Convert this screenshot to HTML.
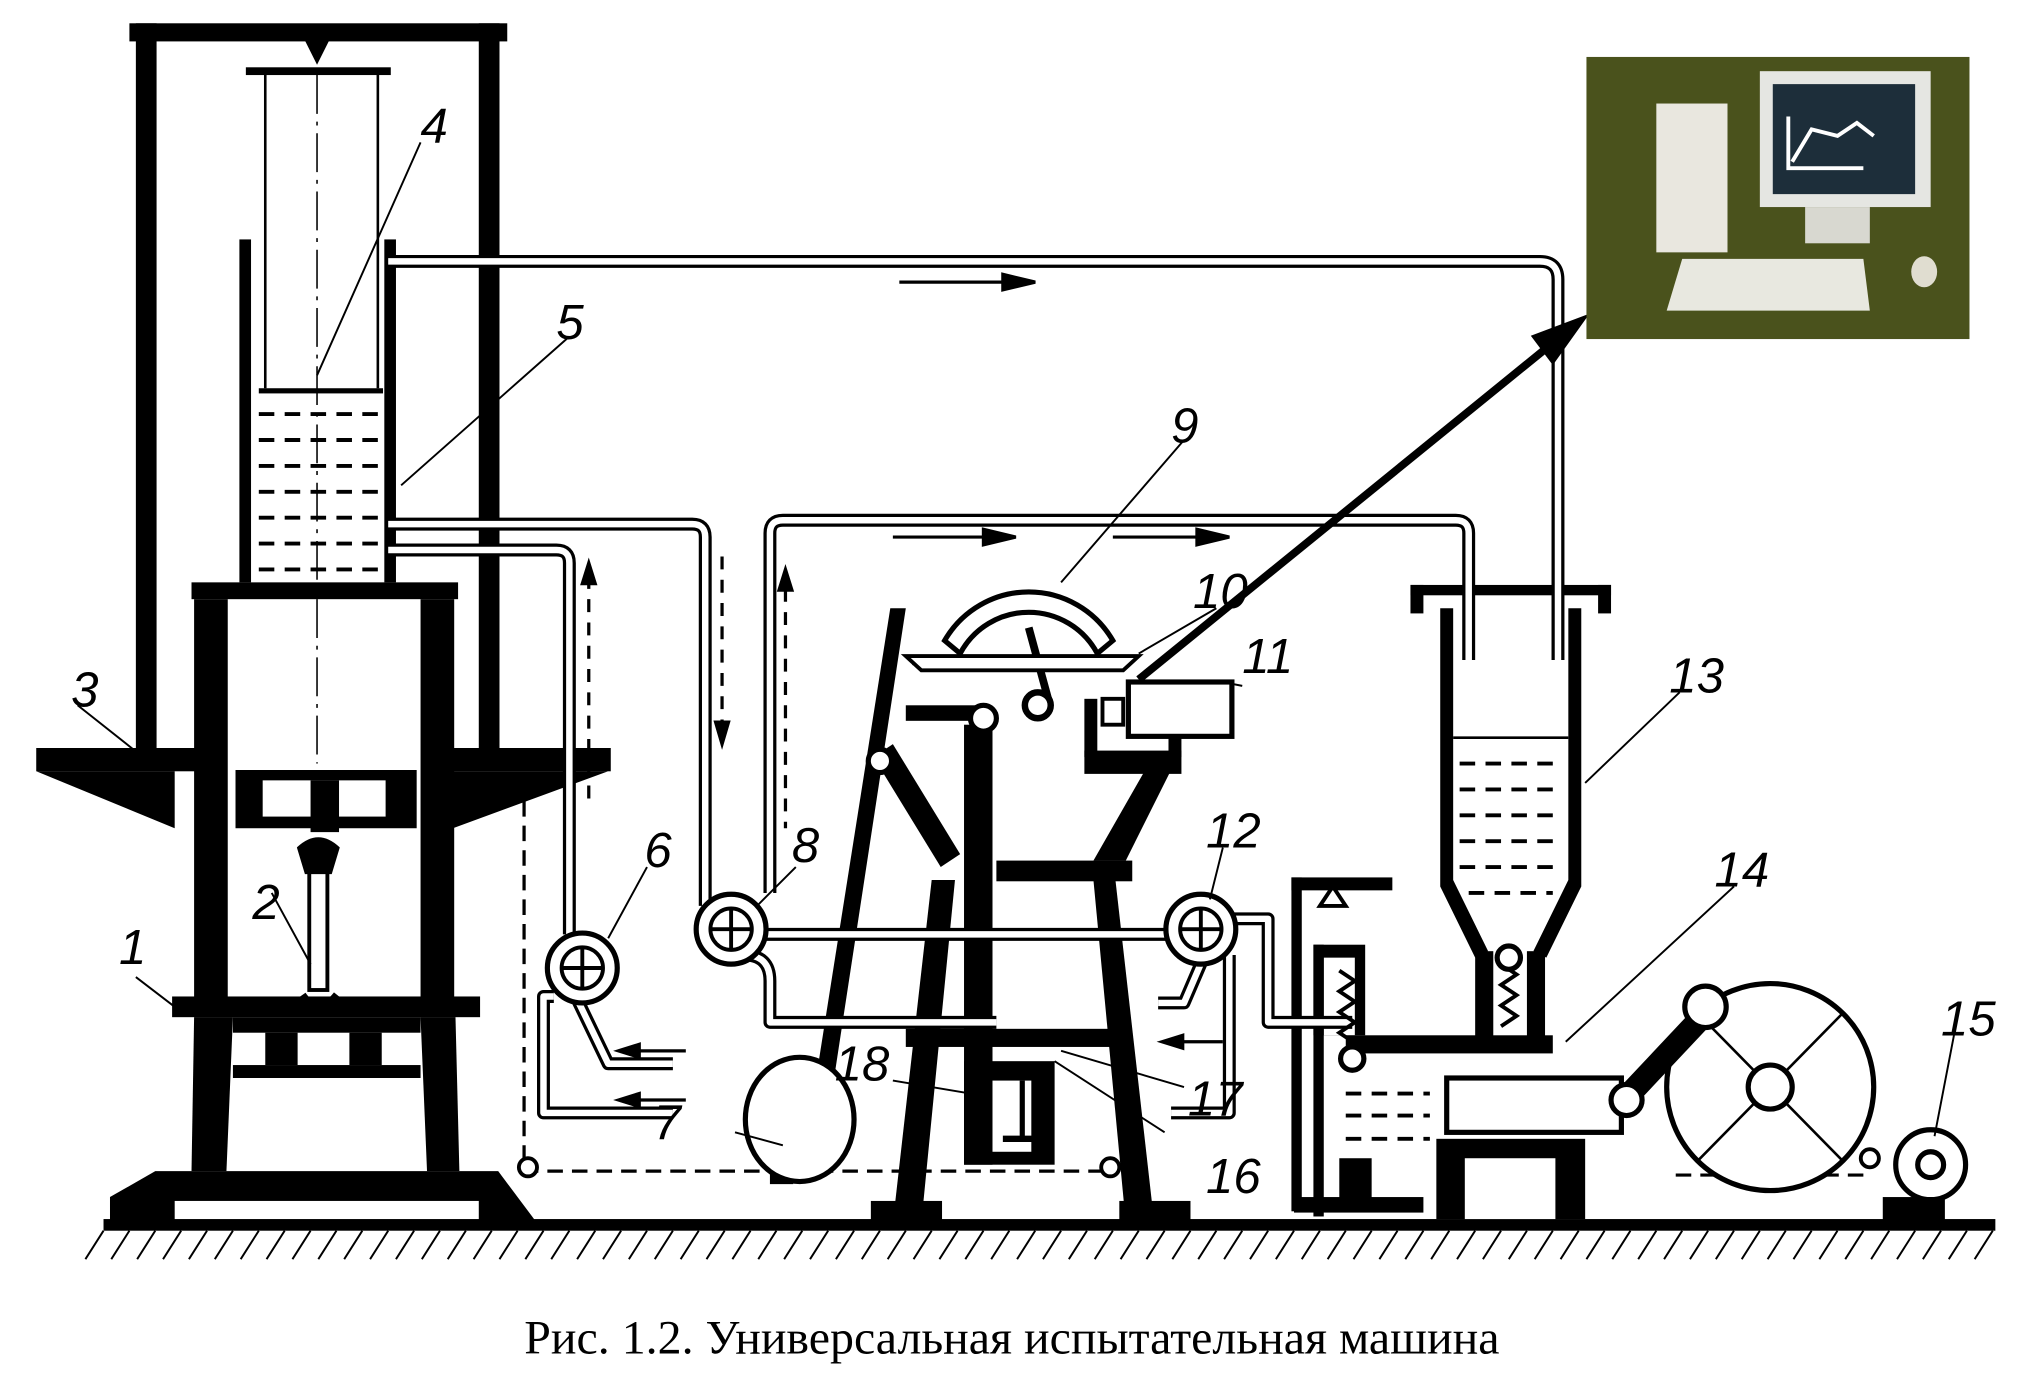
<!DOCTYPE html>
<html><head><meta charset="utf-8"><style>
html,body{margin:0;padding:0;background:#fff;}
svg{display:block}
</style></head><body>
<svg width="2029" height="1386" viewBox="0 0 1568 1071" preserveAspectRatio="none" xmlns="http://www.w3.org/2000/svg">
<rect width="1568" height="1071" fill="#fff"/>
<g fill="#000" stroke="none">
<rect x="100" y="18" width="292" height="14"/>
<rect x="105" y="18" width="16" height="572"/>
<rect x="370" y="18" width="16" height="572"/>
<rect x="28" y="578" width="124" height="18"/>
<polygon points="28,596 135,596 135,640"/>
<rect x="350" y="578" width="122" height="18"/>
<polygon points="350,596 470,596 350,640"/>
<rect x="148" y="450" width="206" height="13"/>
<rect x="150" y="463" width="26" height="310"/>
<rect x="325" y="463" width="26" height="310"/>
<rect x="182" y="595" width="140" height="45"/>
<rect x="203" y="603" width="95" height="28" fill="#fff"/>
<rect x="240" y="603" width="22" height="40"/>
<rect x="133" y="770" width="238" height="16"/>
<polygon points="150,786 180,786 175,905 148,905"/>
<polygon points="325,786 352,786 355,905 330,905"/>
<rect x="180" y="786" width="145" height="12"/>
<rect x="205" y="798" width="25" height="25"/>
<rect x="270" y="798" width="25" height="25"/>
<rect x="180" y="823" width="145" height="10"/>
<polygon points="120,905 385,905 415,945 85,945 85,925"/>
<rect x="135" y="928" width="235" height="17" fill="#fff"/>
<rect x="185" y="185" width="9" height="265"/>
<rect x="297" y="185" width="9" height="265"/>
<rect x="190" y="52" width="112" height="6"/>
<polygon points="235,30 255,30 245,50"/>
<rect x="200" y="300" width="96" height="4"/>
<rect x="80" y="942" width="1462" height="9"/>
<polygon points="688,470 700,470 642,850 628,850"/>
<polygon points="690,945 712,945 738,680 720,680"/>
<polygon points="870,945 892,945 862,680 845,680"/>
<rect x="673" y="928" width="55" height="17"/>
<rect x="865" y="928" width="55" height="17"/>
<rect x="770" y="665" width="105" height="16"/>
<polygon points="845,665 870,665 905,595 885,595"/>
<rect x="838" y="580" width="75" height="18"/>
<rect x="838" y="540" width="10" height="45"/>
<rect x="903" y="540" width="10" height="45"/>
<rect x="700" y="545" width="65" height="12"/>
<rect x="745" y="560" width="22" height="340"/>
<polygon points="675,585 690,575 742,660 727,670"/>
<rect x="745" y="820" width="70" height="80"/>
<rect x="767" y="835" width="30" height="55" fill="#fff"/>
<rect x="700" y="795" width="170" height="14"/>
<rect x="998" y="678" width="78" height="10"/>
<rect x="998" y="678" width="8" height="258"/>
<rect x="1015" y="730" width="40" height="70"/>
<rect x="1023" y="740" width="24" height="60" fill="#fff"/>
<rect x="1015" y="730" width="8" height="210"/>
<rect x="1040" y="800" width="160" height="14"/>
<rect x="1140" y="735" width="14" height="70"/>
<rect x="1180" y="735" width="14" height="70"/>
<rect x="1110" y="880" width="115" height="62"/>
<rect x="1132" y="895" width="70" height="47" fill="#fff"/>
<rect x="1000" y="925" width="100" height="12"/>
<rect x="1035" y="895" width="25" height="40"/>
<rect x="1090" y="452" width="155" height="8"/>
<rect x="1090" y="452" width="10" height="22"/>
<rect x="1235" y="452" width="10" height="22"/>
<polygon points="1113,470 1123,470 1123,680 1150,735 1140,740 1113,685"/>
<polygon points="1212,470 1222,470 1222,685 1195,740 1185,735 1212,680"/>
<rect x="1455" y="925" width="48" height="18"/>
<rect x="595" y="905" width="18" height="10"/>
</g>
<g fill="none" stroke="#000">
<line x1="205" y1="58" x2="205" y2="300" stroke-width="2"/>
<line x1="292" y1="58" x2="292" y2="300" stroke-width="2"/>
<line x1="245" y1="58" x2="245" y2="590" stroke-width="1.2" stroke-dasharray="30 6 3 6"/>
<g stroke-width="3" stroke-dasharray="12 8">
<line x1="200" y1="320" x2="296" y2="320"/><line x1="200" y1="340" x2="296" y2="340"/>
<line x1="200" y1="360" x2="296" y2="360"/><line x1="200" y1="380" x2="296" y2="380"/>
<line x1="200" y1="400" x2="296" y2="400"/><line x1="200" y1="420" x2="296" y2="420"/>
<line x1="200" y1="440" x2="296" y2="440"/>
<line x1="1128" y1="590" x2="1208" y2="590"/><line x1="1128" y1="610" x2="1208" y2="610"/>
<line x1="1128" y1="630" x2="1208" y2="630"/><line x1="1128" y1="650" x2="1208" y2="650"/>
<line x1="1128" y1="670" x2="1208" y2="670"/><line x1="1135" y1="690" x2="1200" y2="690"/>
<line x1="1040" y1="845" x2="1105" y2="845"/><line x1="1040" y1="862" x2="1105" y2="862"/>
<line x1="1040" y1="880" x2="1105" y2="880"/>
<line x1="705" y1="513" x2="860" y2="513" stroke-width="2"/>
</g>
<line x1="1123" y1="570" x2="1212" y2="570" stroke-width="2"/>
<rect x="239" y="655" width="14" height="110" stroke-width="3" fill="#fff"/>
<path d="M230,655 q16,-15 32,0 l-6,20 h-20z" fill="#000"/>
<path d="M232,770 q14,20 30,0" stroke-width="10"/>
<g stroke-width="10" stroke-linejoin="round">
<path d="M300,202 H1190 q14,0 14,14 V510"/>
<path d="M300,405 H535 q10,0 10,10 V700"/>
<path d="M300,425 H430 q10,0 10,10 V722"/>
<path d="M595,690 V412 q0,-10 10,-10 H1125 q10,0 10,10 V510"/>
<path d="M588,722 H902"/>
<path d="M575,738 q20,0 20,20 V790 H770"/>
<path d="M445,770 L470,822 H520"/>
<path d="M428,770 H420 V860 H520"/>
<path d="M948,710 H980 V790 H1045"/>
<path d="M930,740 L915,775 H895"/>
<path d="M950,738 V860 H905"/>
</g>
<g stroke="#fff" stroke-width="5" stroke-linejoin="round">
<path d="M300,202 H1190 q14,0 14,14 V510"/>
<path d="M300,405 H535 q10,0 10,10 V700"/>
<path d="M300,425 H430 q10,0 10,10 V722"/>
<path d="M595,690 V412 q0,-10 10,-10 H1125 q10,0 10,10 V510"/>
<path d="M588,722 H902"/>
<path d="M575,738 q20,0 20,20 V790 H770"/>
<path d="M445,770 L470,822 H520"/>
<path d="M428,770 H420 V860 H520"/>
<path d="M948,710 H980 V790 H1045"/>
<path d="M930,740 L915,775 H895"/>
<path d="M950,738 V860 H905"/>
</g>
<g stroke-width="4" fill="#fff">
<circle cx="450" cy="748" r="27"/><circle cx="565" cy="718" r="27"/><circle cx="928" cy="718" r="27"/>
</g>
<g stroke-width="3" fill="#fff">
<circle cx="450" cy="748" r="16"/><circle cx="565" cy="718" r="16"/><circle cx="928" cy="718" r="16"/>
<path d="M434,748 h32 M450,732 v32 M549,718 h32 M565,702 v32 M912,718 h32 M928,702 v32"/>
</g>
<path d="M405,600 V905 H860" stroke-width="2.5" stroke-dasharray="12 7"/>
<circle cx="408" cy="902" r="7" stroke-width="3" fill="#fff"/>
<circle cx="858" cy="902" r="7" stroke-width="3" fill="#fff"/>
<path d="M1440,908 L1290,908" stroke-width="2.5" stroke-dasharray="12 7"/>
<ellipse cx="618" cy="865" rx="42" ry="48" stroke-width="4" fill="#fff"/>
<circle cx="760" cy="555" r="10" stroke-width="4" fill="#fff"/>
<circle cx="680" cy="588" r="9" stroke-width="4" fill="#fff"/>
<path d="M730,495 A75,75 0 0 1 860,495 L848,505 A60,60 0 0 0 742,505 Z" stroke-width="4" fill="#fff"/>
<path d="M795,485 L810,540" stroke-width="6"/>
<circle cx="802" cy="545" r="10" stroke-width="5" fill="#fff"/>
<polygon points="700,507 880,507 868,518 712,518" stroke-width="3" fill="#fff"/>
<rect x="872" y="527" width="80" height="42" stroke-width="4" fill="#fff"/>
<rect x="852" y="540" width="16" height="20" stroke-width="3"/>
<line x1="790" y1="835" x2="790" y2="880" stroke-width="4"/>
<line x1="775" y1="880" x2="808" y2="880" stroke-width="5"/>
<path d="M1035,750 l12,8 -12,8 12,8 -12,8 12,8 -12,8 12,8" stroke-width="3"/>
<path d="M1160,745 l12,8 -12,8 12,8 -12,8 12,8 -12,8" stroke-width="3"/>
<circle cx="1166" cy="740" r="9" stroke-width="4" fill="#fff"/>
<circle cx="1045" cy="818" r="9" stroke-width="4" fill="#fff"/>
<path d="M1020,700 l10,-15 10,15 z" stroke-width="3"/>
<rect x="1118" y="833" width="135" height="42" stroke-width="4" fill="#fff"/>
<circle cx="1368" cy="840" r="80" stroke-width="4" fill="#fff"/>
<path d="M1312,783 L1424,897 M1312,897 L1424,783" stroke-width="2"/>
<circle cx="1368" cy="840" r="17" stroke-width="4" fill="#fff"/>
<path d="M1255,850 L1318,783" stroke-width="18"/>
<circle cx="1318" cy="778" r="16" stroke-width="4" fill="#fff"/>
<circle cx="1257" cy="850" r="12" stroke-width="4" fill="#fff"/>
<circle cx="1492" cy="900" r="27" stroke-width="4" fill="#fff"/>
<circle cx="1492" cy="900" r="10" stroke-width="4"/>
<circle cx="1445" cy="895" r="7" stroke-width="3" fill="#fff"/>
<path d="M80,951 l-14,22 M100,951 l-14,22 M120,951 l-14,22 M140,951 l-14,22 M160,951 l-14,22 M180,951 l-14,22 M200,951 l-14,22 M220,951 l-14,22 M240,951 l-14,22 M260,951 l-14,22 M280,951 l-14,22 M300,951 l-14,22 M320,951 l-14,22 M340,951 l-14,22 M360,951 l-14,22 M380,951 l-14,22 M400,951 l-14,22 M420,951 l-14,22 M440,951 l-14,22 M460,951 l-14,22 M480,951 l-14,22 M500,951 l-14,22 M520,951 l-14,22 M540,951 l-14,22 M560,951 l-14,22 M580,951 l-14,22 M600,951 l-14,22 M620,951 l-14,22 M640,951 l-14,22 M660,951 l-14,22 M680,951 l-14,22 M700,951 l-14,22 M720,951 l-14,22 M740,951 l-14,22 M760,951 l-14,22 M780,951 l-14,22 M800,951 l-14,22 M820,951 l-14,22 M840,951 l-14,22 M860,951 l-14,22 M880,951 l-14,22 M900,951 l-14,22 M920,951 l-14,22 M940,951 l-14,22 M960,951 l-14,22 M980,951 l-14,22 M1000,951 l-14,22 M1020,951 l-14,22 M1040,951 l-14,22 M1060,951 l-14,22 M1080,951 l-14,22 M1100,951 l-14,22 M1120,951 l-14,22 M1140,951 l-14,22 M1160,951 l-14,22 M1180,951 l-14,22 M1200,951 l-14,22 M1220,951 l-14,22 M1240,951 l-14,22 M1260,951 l-14,22 M1280,951 l-14,22 M1300,951 l-14,22 M1320,951 l-14,22 M1340,951 l-14,22 M1360,951 l-14,22 M1380,951 l-14,22 M1400,951 l-14,22 M1420,951 l-14,22 M1440,951 l-14,22 M1460,951 l-14,22 M1480,951 l-14,22 M1500,951 l-14,22 M1520,951 l-14,22 M1540,951 l-14,22" stroke-width="1.5"/>
<g stroke-width="1.5">
<path d="M325,110 L245,290 M440,260 L310,375 M60,545 L108,583 M210,690 L240,745 M105,755 L135,778 M500,670 L470,725 M615,670 L585,700 M915,340 L820,450 M940,470 L880,505 M960,530 L950,528 M1298,535 L1225,605 M945,655 L935,695 M1340,685 L1210,805 M1510,800 L1495,878 M568,875 L605,885 M690,835 L750,845 M915,840 L820,812 M900,875 L815,820"/>
</g>
</g>
<g stroke="#000" stroke-width="2.5" fill="#000">
<line x1="695" y1="218" x2="785" y2="218"/><polygon points="800,218 775,212 775,224"/>
<line x1="690" y1="415" x2="770" y2="415"/><polygon points="785,415 760,409 760,421"/>
<line x1="860" y1="415" x2="935" y2="415"/><polygon points="950,415 925,409 925,421"/>
<line x1="558" y1="430" x2="558" y2="560" stroke-dasharray="10 8"/><polygon points="558,575 553,558 563,558"/>
<line x1="607" y1="455" x2="607" y2="640" stroke-dasharray="10 8"/><polygon points="607,440 602,456 612,456"/>
<line x1="455" y1="445" x2="455" y2="620" stroke-dasharray="10 8"/><polygon points="455,435 450,451 460,451"/>
<line x1="490" y1="812" x2="530" y2="812"/><polygon points="478,812 494,807 494,817"/>
<line x1="490" y1="850" x2="530" y2="850"/><polygon points="478,850 494,845 494,855"/>
<line x1="910" y1="805" x2="945" y2="805"/><polygon points="898,805 914,800 914,810"/>
<line x1="880" y1="525" x2="1200" y2="265" stroke-width="6"/><polygon points="1225,245 1185,260 1200,280"/>
</g>
<rect x="1226" y="44" width="296" height="218" fill="#4a521c"/>
<rect x="1280" y="80" width="55" height="115" fill="#e9e7df"/>
<rect x="1360" y="55" width="132" height="105" fill="#e5e6e2"/>
<rect x="1370" y="65" width="110" height="85" fill="#1d2e3a"/>
<path d="M1382,90 V130 H1440 M1385,125 L1400,100 L1420,105 L1435,95 L1448,105" stroke="#fff" stroke-width="3" fill="none"/>
<rect x="1395" y="160" width="50" height="28" fill="#d8d8d0"/>
<polygon points="1300,200 1440,200 1445,240 1288,240" fill="#e8e8e0"/>
<ellipse cx="1487" cy="210" rx="10" ry="12" fill="#e0ddd0"/>
<g font-family="Liberation Sans, sans-serif" font-style="italic" font-size="38" fill="#000">
<text x="325" y="110">4</text><text x="430" y="262">5</text><text x="55" y="546">3</text>
<text x="195" y="710">2</text><text x="92" y="745">1</text><text x="498" y="670">6</text>
<text x="612" y="666">8</text><text x="905" y="342">9</text><text x="922" y="470">10</text>
<text x="960" y="520">11</text><text x="1290" y="535">13</text><text x="932" y="655">12</text>
<text x="1325" y="685">14</text><text x="1500" y="800">15</text><text x="505" y="880">7</text>
<text x="645" y="835">18</text><text x="918" y="862">17</text><text x="932" y="922">16</text>
</g>
<text x="782" y="1046" text-anchor="middle" font-family="Liberation Serif, serif" font-size="37" fill="#000">Рис. 1.2. Универсальная испытательная машина</text>
</svg>
</body></html>
